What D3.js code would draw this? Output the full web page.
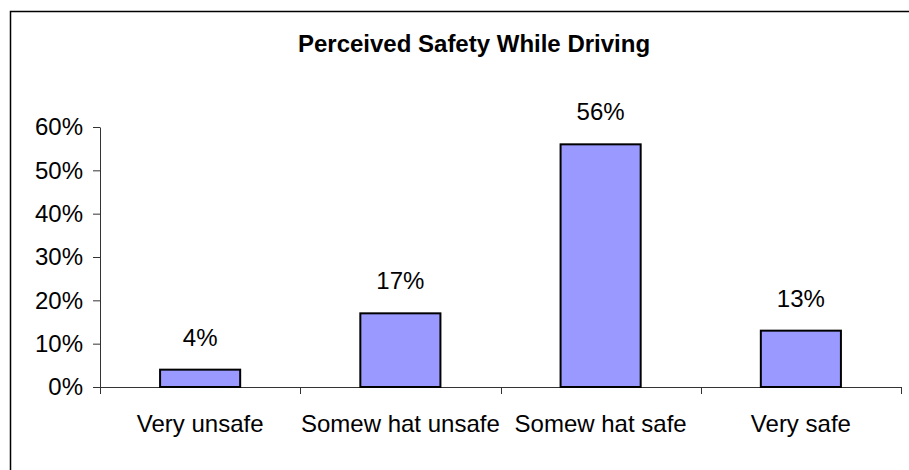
<!DOCTYPE html>
<html>
<head>
<meta charset="utf-8">
<script src="https://cdn.jsdelivr.net/npm/d3@7"></script>
<style>
  body { margin: 0; background: #fff; }
  text { font-family: "Liberation Sans", Arial, sans-serif; fill: #000; }
</style>
</head>
<body>
<script>
const w = 909;
const h = 470;

// data
const categories = ["Very unsafe", "Somew hat unsafe", "Somew hat safe", "Very safe"];
const values = [0.04, 0.17, 0.56, 0.13];
const yTicks = [0, 0.1, 0.2, 0.3, 0.4, 0.5, 0.6];
const title = "Perceived Safety While Driving";

let svg = d3.select("body")
    .append("svg")
        .attr("width", w)
        .attr("height", h);

// outer chart border (runs off the right/bottom edge)
svg.append("rect")
    .attr("x", 10.5)
    .attr("y", 11.5)
    .attr("width", 940)
    .attr("height", 500)
    .attr("fill", "none")
    .attr("stroke", "#000")
    .attr("stroke-width", 1.5);

let x = d3.scaleBand()
    .domain(categories)
    .range([100, 901]);

let y = d3.scaleLinear()
    .domain([0, 0.6])
    .range([387, 127]);

// title
svg.append("text")
    .attr("x", 474)
    .attr("y", 52)
    .attr("text-anchor", "middle")
    .attr("font-size", 24)
    .attr("font-weight", "bold")
    .text(title);

// y axis
let yAxis = svg.append("g")
    .attr("transform", "translate(100,0)")
    .call(d3.axisLeft(y)
        .tickValues(yTicks)
        .tickFormat(d3.format(".0%"))
        .tickSize(7)
        .tickSizeOuter(0)
        .tickPadding(10));
yAxis.select(".domain").attr("stroke", "#333");
yAxis.selectAll(".tick line").attr("stroke", "#333");
yAxis.selectAll("text")
    .attr("font-size", 24)
    .attr("font-family", "Liberation Sans, Arial, sans-serif")
    .attr("fill", "#000");

// x axis: line plus ticks at the category boundaries
let xg = svg.append("g");
xg.append("line")
    .attr("x1", x.range()[0])
    .attr("x2", x.range()[1])
    .attr("y1", y(0) + 0.5)
    .attr("y2", y(0) + 0.5)
    .attr("stroke", "#333");
let edges = categories.map(c => x(c)).concat([x.range()[1]]);
xg.selectAll(".edge")
    .data(edges)
    .enter()
    .append("line")
    .attr("class", "edge")
    .attr("x1", d => Math.round(d) + 0.5)
    .attr("x2", d => Math.round(d) + 0.5)
    .attr("y1", y(0))
    .attr("y2", y(0) + 7)
    .attr("stroke", "#333");
xg.selectAll(".cat")
    .data(categories)
    .enter()
    .append("text")
    .attr("class", "cat")
    .attr("x", d => x(d) + x.bandwidth() / 2)
    .attr("y", y(0) + 45)
    .attr("text-anchor", "middle")
    .attr("font-size", 24)
    .text(d => d);

// bars
const barW = x.bandwidth() * 0.4;
svg.selectAll(".bar")
    .data(values)
    .enter()
    .append("rect")
    .attr("class", "bar")
    .attr("x", (d, i) => x(categories[i]) + (x.bandwidth() - barW) / 2)
    .attr("y", d => y(d))
    .attr("width", barW)
    .attr("height", d => y(0) - y(d))
    .attr("fill", "#9999FF")
    .attr("stroke", "#000")
    .attr("stroke-width", 2);

// value labels
svg.selectAll(".val")
    .data(values)
    .enter()
    .append("text")
    .attr("class", "val")
    .attr("x", (d, i) => x(categories[i]) + x.bandwidth() / 2)
    .attr("y", d => y(d) - 24)
    .attr("text-anchor", "middle")
    .attr("font-size", 24)
    .text(d => d3.format(".0%")(d));
</script>
</body>
</html>
